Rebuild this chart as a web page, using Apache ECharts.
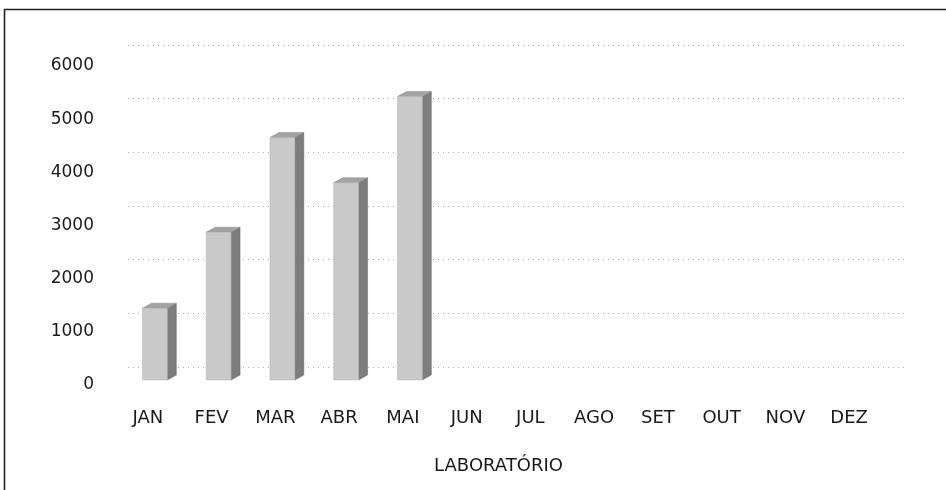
<!DOCTYPE html>
<html>
<head>
<meta charset="utf-8">
<script src="https://cdn.jsdelivr.net/npm/echarts@6/dist/echarts.min.js"></script>
<style>
  html, body { margin: 0; padding: 0; background: #fff; }
  #chart { width: 946px; height: 490px; }
</style>
</head>
<body>
<div id="chart"></div>
<script>
// Gráfico 3D estilo Excel: barras por mês, parede de fundo com grade pontilhada
const MESES = ['JAN', 'FEV', 'MAR', 'ABR', 'MAI', 'JUN', 'JUL', 'AGO', 'SET', 'OUT', 'NOV', 'DEZ']
const VALORES = [1350, 2780, 4560, 3710, 5330]
const Y_MIN = 0, Y_MAX = 6000, Y_PASSO = 1000
const TITULO_X = 'LABORATÓRIO'

const FONT = '"DejaVu Sans", sans-serif'
const DX = 9, DY = -5   // profundidade da barra

const chart = echarts.init(document.getElementById('chart'))

function renderBar(params, api) {
  const i = api.value(0), v = api.value(1)
  const top = api.coord([i, v]), base = api.coord([i, 0])
  const w = api.size([1, 0])[0] * 0.39
  const x0 = top[0] + 7 - w / 2, x1 = x0 + w
  const yT = top[1], yB = base[1]
  return {
    type: 'group',
    children: [
      { type: 'polygon', shape: { points: [[x1, yT], [x1 + DX, yT + DY], [x1 + DX, yB + DY], [x1, yB]] },
        style: { fill: '#7d7d7d', stroke: '#666', lineWidth: 0.5 } },
      { type: 'polygon', shape: { points: [[x0, yT], [x1, yT], [x1 + DX, yT + DY], [x0 + DX, yT + DY]] },
        style: { fill: '#a3a3a3', stroke: '#888', lineWidth: 0.5 } },
      { type: 'rect', shape: { x: x0, y: yT, width: w, height: yB - yT },
        style: { fill: '#c9c9c9', stroke: '#b0b0b0', lineWidth: 0.5 } }
    ]
  }
}

chart.setOption({
  backgroundColor: '#fff',
  animation: false,
  graphic: [{
    type: 'rect', z: 100, silent: true,
    shape: { x: 4.5, y: 9.5, width: 980, height: 520 },
    style: { fill: 'none', stroke: '#222', lineWidth: 1.6 }
  }],
  grid: [
    { left: 116, right: 65, top: 61, bottom: 110 },
    { left: 128, right: 41, top: 45, bottom: 123 }
  ],
  xAxis: [
    {
      type: 'category', gridIndex: 0, data: MESES,
      axisLine: { show: false }, axisTick: { show: false },
      axisLabel: { color: '#1a1a1a', fontFamily: FONT, fontSize: 18, margin: 29 },
      name: TITULO_X, nameLocation: 'middle', nameGap: 77,
      nameTextStyle: { color: '#1a1a1a', fontFamily: FONT, fontSize: 18 }
    },
    { type: 'value', gridIndex: 1, show: false, min: 0, max: 1 }
  ],
  yAxis: [
    {
      type: 'value', gridIndex: 0, min: Y_MIN, max: Y_MAX, interval: Y_PASSO,
      axisLine: { show: false }, axisTick: { show: false }, splitLine: { show: false },
      axisLabel: {
        color: '#1a1a1a', fontFamily: FONT, fontSize: 17, margin: 22,
        formatter: v => '{a|' + v + '}',
        rich: { a: { color: '#1a1a1a', fontFamily: FONT, fontSize: 17, padding: [10, 0, 0, 0] } }
      }
    },
    {
      type: 'value', gridIndex: 1, min: Y_MIN, max: Y_MAX, interval: Y_PASSO,
      axisLine: { show: false }, axisTick: { show: false }, axisLabel: { show: false },
      splitLine: { show: true, lineStyle: { color: '#a8a8a8', width: 1, type: [1, 4] } }
    }
  ],
  series: [{
    type: 'custom',
    xAxisIndex: 0, yAxisIndex: 0,
    renderItem: renderBar,
    data: VALORES.map((v, i) => [i, v])
  }]
})
</script>
</body>
</html>
